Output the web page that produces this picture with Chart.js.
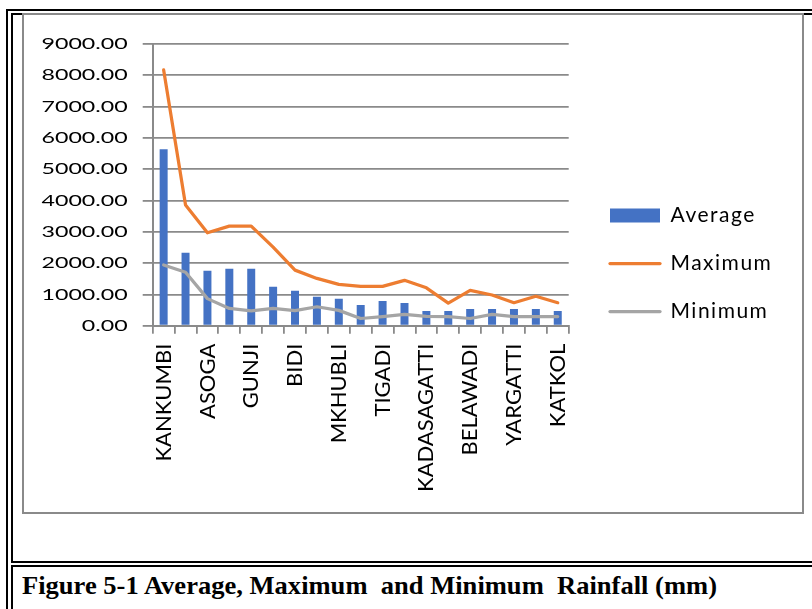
<!DOCTYPE html>
<html>
<head>
<meta charset="utf-8">
<title>Average, Maximum and Minimum Rainfall</title>
<script src="https://cdn.jsdelivr.net/npm/chart.js@4.4.1/dist/chart.umd.min.js"></script>
<style>
  html, body { margin: 0; padding: 0; background: #fff; }
  body { position: relative; width: 812px; height: 609px; overflow: hidden; }
  .rule { position: absolute; background: #000; }
  #chartBox { position: absolute; left: 22px; top: 13px; width: 778px; height: 497px;
              border: 2px solid #8a8a8a; background: #fff; }
  #chartBox canvas { position: absolute; left: 0; top: 0; }
  #caption { position: absolute; left: 22px; top: 573px; margin: 0;
             font: bold 26px "Liberation Serif", "Times New Roman", serif;
             line-height: 26px; white-space: pre; color: #000; transform-origin: 0 0; }
</style>
</head>
<body>
<!-- double-ruled table frame around the figure and its caption -->
<div class="rule" style="left:6px;top:9px;width:2px;height:600px"></div>
<div class="rule" style="left:6px;top:9px;width:806px;height:2px"></div>
<div class="rule" style="left:11px;top:13px;width:2px;height:550px"></div>
<div class="rule" style="left:11px;top:13px;width:801px;height:2px"></div>
<div class="rule" style="left:11px;top:561px;width:801px;height:2px"></div>
<div class="rule" style="left:11px;top:565px;width:801px;height:2px"></div>
<div class="rule" style="left:11px;top:565px;width:2px;height:44px"></div>

<div id="chartBox"><canvas id="chart" width="778" height="497"></canvas></div>
<div id="caption">Figure 5-1 Average, Maximum  and Minimum  Rainfall (mm)</div>

<script>
// Rain gauge stations (only every other name is printed on the axis)
const stations = ['KANKUMBI', '', 'ASOGA', '', 'GUNJI', '', 'BIDI', '', 'MKHUBLI', '',
                  'TIGADI', '', 'KADASAGATTI', '', 'BELAWADI', '', 'YARGATTI', '', 'KATKOL'];

// Annual rainfall, mm
const averageRain = [5640, 2330, 1755, 1820, 1820, 1245, 1115, 925, 860, 665,
                     790, 725, 470, 470, 530, 530, 530, 530, 470];
const maximumRain = [8170, 3855, 2970, 3180, 3180, 2510, 1775, 1510, 1320, 1260,
                     1255, 1450, 1210, 720, 1130, 980, 735, 940, 735];
const minimumRain = [1940, 1710, 865, 550, 475, 550, 480, 605, 490, 230,
                     290, 360, 300, 290, 230, 360, 290, 290, 290];

// Value axis ticks
const rainTicks = [0, 1000, 2000, 3000, 4000, 5000, 6000, 7000, 8000, 9000];

const GRID = '#8a8a8a';
const FONT = 'Lato';

// plot geometry inside the canvas
const PLOT_LEFT = 128.7, PLOT_RIGHT = 544.7, PLOT_TOP = 29, PLOT_BOTTOM = 310.7;
const CANVAS_W = 778, CANVAS_H = 497;
const Y_TICK_LEN = 10, Y_TICK_PAD = 15, Y_LABEL_STRETCH = 1.45;

// legend geometry
const LEG_FONT = 21, LEG_BOX_W = 50, LEG_BOX_H = 14, LEG_PAD = 27;
const LEG_GAP = 41.3 - LEG_PAD;

const legendNames = ['Average', 'Maximum', 'Minimum'];
const mctx = document.createElement('canvas').getContext('2d');
mctx.font = LEG_FONT + 'px ' + FONT;
const widestName = Math.max(...legendNames.map(t => mctx.measureText(t).width));
const legendWidth = LEG_PAD + LEG_BOX_W + LEG_FONT / 2 + widestName + 10;
const rightPad = CANVAS_W - PLOT_RIGHT - LEG_GAP - legendWidth;

const config = {
  data: {
    labels: stations,
    datasets: [
      { type: 'bar', label: legendNames[0], data: averageRain,
        backgroundColor: '#4472C4', borderWidth: 0,
        barPercentage: 0.365, categoryPercentage: 1, order: 2 },
      { type: 'line', label: legendNames[1], data: maximumRain,
        borderColor: '#ED7D31', backgroundColor: '#ED7D31', borderWidth: 3.25,
        pointRadius: 0, tension: 0, borderCapStyle: 'round', borderJoinStyle: 'round', order: 1 },
      { type: 'line', label: legendNames[2], data: minimumRain,
        borderColor: '#A5A5A5', backgroundColor: '#A5A5A5', borderWidth: 3.25,
        pointRadius: 0, tension: 0, borderCapStyle: 'round', borderJoinStyle: 'round', order: 0 }
    ]
  },
  options: {
    responsive: false,
    animation: false,
    devicePixelRatio: 1,
    layout: { padding: { top: 0, bottom: 0, left: 0, right: rightPad } },
    scales: {
      x: {
        type: 'category',
        offset: true,
        grid: { offset: true, drawOnChartArea: false, drawTicks: true, tickLength: 8,
                color: GRID, lineWidth: 1.8 },
        border: { display: true, color: GRID, width: 2 },
        ticks: { autoSkip: false, minRotation: 90, maxRotation: 90, padding: 10,
                 color: '#000', font: { family: FONT, size: 22 } },
        afterFit(s) { s.height = CANVAS_H - PLOT_BOTTOM; }
      },
      y: {
        type: 'linear',
        min: 0, max: 9000,
        afterBuildTicks(s) { s.ticks = rainTicks.map(v => ({ value: v })); },
        grid: { color: GRID, lineWidth: 1.8, tickLength: Y_TICK_LEN },
        border: { display: true, color: GRID, width: 2 },
        ticks: { padding: Y_TICK_PAD, color: '#000', font: { family: FONT, size: 16 },
                 callback: v => Number(v).toFixed(2) },
        afterFit(s) { s.width = PLOT_LEFT; }
      },
      // empty band above the plot
      topBand: {
        axis: 'x', type: 'linear', position: 'top', display: true,
        grid: { display: false }, border: { display: false }, ticks: { display: false },
        afterFit(s) { s.height = PLOT_TOP; }
      },
      // empty band between the plot and the legend
      legendBand: {
        axis: 'y', type: 'linear', position: 'right', display: true,
        grid: { display: false }, border: { display: false }, ticks: { display: false },
        afterFit(s) { s.width = LEG_GAP; }
      }
    },
    plugins: {
      tooltip: { enabled: false },
      legend: {
        position: 'right',
        align: 'center',
        maxWidth: 400,
        labels: {
          usePointStyle: true,
          pointStyleWidth: LEG_BOX_W,
          boxHeight: LEG_BOX_H,
          padding: LEG_PAD,
          color: '#000',
          font: { family: FONT, size: LEG_FONT },
          sort: (a, b) => a.datasetIndex - b.datasetIndex,
          generateLabels(chart) {
            const items = Chart.defaults.plugins.legend.labels.generateLabels(chart);
            items.forEach(it => {
              const ds = chart.data.datasets[it.datasetIndex];
              if (ds.type === 'line') {
                it.pointStyle = 'line';
                it.strokeStyle = ds.borderColor;
                it.lineWidth = 3.25;
                it.lineCap = 'round';
              } else {
                it.pointStyle = 'rect';
                it.fillStyle = ds.backgroundColor;
                it.lineWidth = 0;
              }
            });
            return items;
          }
        }
      }
    }
  }
};

const chart = new Chart(document.getElementById('chart'), config);

// wide value-axis numerals: stretch the labels sideways from their right edge
const yScale = chart.scales.y;
const drawYLabels = yScale.drawLabels.bind(yScale);
yScale.drawLabels = function (area) {
  const c = this.ctx;
  const x0 = this.right - Y_TICK_LEN - Y_TICK_PAD;
  c.save();
  c.translate(x0, 0); c.scale(Y_LABEL_STRETCH, 1); c.translate(-x0, 0);
  drawYLabels(area);
  c.restore();
};

// slightly spaced legend lettering
const legend = chart.legend;
const drawLegend = legend.draw.bind(legend);
legend.draw = function (area) {
  const c = this.ctx;
  c.save();
  c.letterSpacing = '1.5px';
  drawLegend(area);
  c.restore();
};

chart.draw();

// caption spans the width of the figure cell
const cap = document.getElementById('caption');
const capW = cap.getBoundingClientRect().width;
cap.style.transform = 'scaleX(' + (695 / capW) + ')';
</script>
</body>
</html>
